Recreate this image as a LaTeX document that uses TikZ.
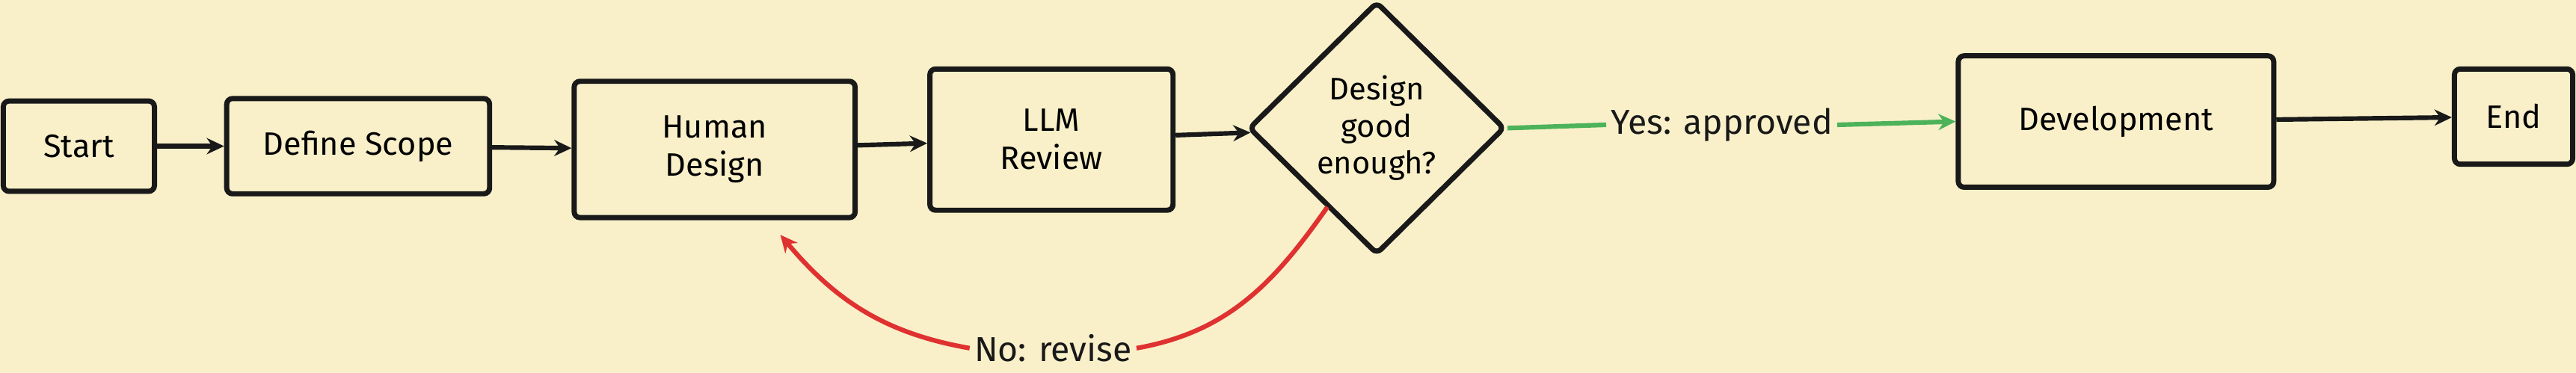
\documentclass[tikz,border=0pt]{standalone}
\usepackage{fontspec}
\setmainfont{Fira Sans}
\usetikzlibrary{shapes.geometric,arrows.meta,positioning}
\definecolor{bgcol}{HTML}{F9F0C9}
\definecolor{okgreen}{HTML}{4CB35A}
\definecolor{nored}{HTML}{E03131}
\begin{document}
\begin{tikzpicture}[x=1mm,y=-1mm,
  box/.style={rectangle, draw=black!90, line width=9pt, rounded corners=10pt, align=center, font=\fontsize{56}{66}\selectfont},
  dec/.style={diamond, draw=black!90, line width=9pt, rounded corners=10pt, align=center, font=\fontsize{54}{64}\selectfont, minimum width=156mm, minimum height=154mm, inner sep=0pt},
  arrow/.style={-{Stealth[length=30pt,width=28pt]}, line width=8pt, black!90},
  lbl/.style={font=\fontsize{60}{70}\selectfont, fill=bgcol, inner sep=8pt}
]
\fill[bgcol] (0,0) rectangle (1568,227);
\useasboundingbox (0,0) rectangle (1568,227);

% main flow
\node[box, minimum width=92mm, minimum height=55mm] (start) at (48,89) {Start};
\node[box, minimum width=160mm, minimum height=58mm] (scope) at (218,89) {Define Scope};
\node[box, minimum width=171mm, minimum height=83mm] (human) at (435,91) {Human\\Design};
\node[box, minimum width=148mm, minimum height=86mm] (llm) at (640,85) {LLM\\Review};
\node[dec] (good) at (838,78) {Design\\good\\enough?};
\node[box, minimum width=192mm, minimum height=80mm] (dev) at (1288,74) {Development};
\node[box, minimum width=72mm, minimum height=58mm] (end) at (1530,71) {End};

\draw[arrow] (start) -- (scope);
\draw[arrow] (scope) -- (human);
\draw[arrow] (human) -- (llm);
\draw[arrow] (llm) -- (good);
\draw[arrow] (dev) -- (end);

% decision branches
\node[lbl, text=black!90] (yes) at (1048,76) {Yes: approved};
\draw[line width=8pt, okgreen] (good.east) -- (yes.west);
\draw[arrow, okgreen] (yes.east) -- (dev.west);

\node[lbl, text=black!90] (no) at (641,212) {No: revise};
\coordinate (nostart) at (808,126);
\draw[line width=8pt, nored] (nostart) to[out=-125,in=10] (no.east);
\draw[arrow, nored] (no.west) to[out=170,in=-50] (475,143) coordinate (nohit);
\end{tikzpicture}
\end{document}
